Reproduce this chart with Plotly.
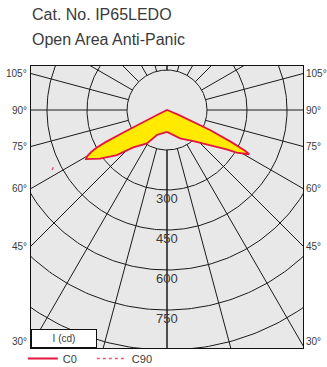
import numpy as np
import plotly.graph_objects as go

# ---------------- data ----------------
title_lines = ["Cat. No. IP65LEDO", "Open Area Anti-Panic"]

# C0 half (drawn on the right), gamma in degrees from nadir, intensity in cd
c0_gamma = [0, 12, 24.7, 40.3, 50.9, 56.6, 58.5, 61.7, 62.5, 63.5, 65, 66.5, 67.5, 68.5, 69.5, 90, 180]
c0_cd    = [82, 95, 117, 153, 208, 268, 306, 350, 330, 270, 178, 94, 45, 10, 0, 0, 0]

# C180 half (drawn on the left)
c180_gamma = [0, 10, 22, 31, 42, 48, 54, 58.8, 60, 61, 61.8, 62.4, 62.8, 63.2, 63.6, 64, 90, 180]
c180_cd    = [82, 88, 101, 146, 189, 253, 310, 355, 345, 325, 300, 260, 180, 100, 40, 0, 0, 0]

# C90 plane (only a tiny fragment is visible, on the left)
c90_gamma = [62.4, 63.6]
c90_cd    = [486, 474]

ring_values = [150, 300, 450, 600, 750, 900, 1050]
ring_labels = [300, 450, 600, 750]
radial_angles = list(range(0, 181, 15))
side_labels = [105, 90, 75, 60, 45, 30]

# ---------------- layout geometry ----------------
W, H = 327, 367
PL, PR, PT, PB = 31, 303, 66, 348      # plot area in px
CX, CY = 167, 110                       # polar centre in px
K = 40 / 150                            # px per cd

x_range = [-(CX - PL) / K, (PR - CX) / K]
y_range = [-(PB - CY) / K, (CY - PT) / K]

GRID = "#1a1a1a"
TXT = "#3a3a3a"
FONT = "Liberation Sans, Arial, sans-serif"


def to_xy(gamma, cd, side):
    g = np.radians(np.asarray(gamma, dtype=float))
    r = np.asarray(cd, dtype=float)
    return side * r * np.sin(g), -r * np.cos(g)


fig = go.Figure()

# rings
cx, cy = [], []
t = np.linspace(0, 2 * np.pi, 361)
for rv in ring_values:
    cx += list(rv * np.cos(t)) + [None]
    cy += list(rv * np.sin(t)) + [None]
fig.add_trace(go.Scatter(x=cx, y=cy, mode="lines", line=dict(color=GRID, width=1),
                         hoverinfo="skip", showlegend=False))

# radial lines
lx, ly = [], []
for side in (1, -1):
    for a in radial_angles:
        xs, ys = to_xy([a, a], [ring_values[0], 2000], side)
        lx += list(xs) + [None]
        ly += list(ys) + [None]
fig.add_trace(go.Scatter(x=lx, y=ly, mode="lines", line=dict(color=GRID, width=1),
                         hoverinfo="skip", showlegend=False))

# C0 / C180 filled curve
rx, ry = to_xy(c0_gamma, c0_cd, 1)
lxx, lyy = to_xy(c180_gamma[::-1], c180_cd[::-1], -1)
px = list(rx) + list(lxx)
py = list(ry) + list(lyy)
fig.add_trace(go.Scatter(x=px, y=py, mode="lines", fill="toself", fillcolor="#FFEA00",
                         line=dict(color="#E3173E", width=1.8), hoverinfo="skip",
                         showlegend=False))

# C90 fragment
vx, vy = to_xy(c90_gamma, c90_cd, -1)
fig.add_trace(go.Scatter(x=vx, y=vy, mode="lines", name="C90",
                         line=dict(color="#E8577A", width=1.5, dash="dot")))

# legend-only C0
fig.add_trace(go.Scatter(x=[None], y=[None], mode="lines", name="C0",
                         line=dict(color="#E3173E", width=2)))

ann = []
for v in ring_labels:
    ann.append(dict(x=0, y=-v, xref="x", yref="y", text=str(v), showarrow=False,
                    yanchor="top", xanchor="center", yshift=1,
                    font=dict(size=13, color=TXT, family=FONT)))

for a in side_labels:
    ga = np.radians(a)
    yl = -(x_range[1]) / np.tan(ga) if a != 90 else 0
    yl = max(yl, y_range[0] + 25)
    ann.append(dict(x=0, y=yl, xref="paper", yref="y", text=f"{a}°", showarrow=False,
                    xanchor="right", xshift=-2, font=dict(size=10, color=TXT, family=FONT)))
    ann.append(dict(x=1, y=yl, xref="paper", yref="y", text=f"{a}°", showarrow=False,
                    xanchor="left", xshift=1, font=dict(size=10, color=TXT, family=FONT)))

ph = PB - PT
for i, line in enumerate(title_lines):
    yc = [15, 39.5][i]
    ann.append(dict(x=0, y=1 + (PT - yc) / ph, xref="paper", yref="paper", text=line,
                    showarrow=False, xanchor="left", yanchor="middle", xshift=-1,
                    font=dict(size=16, color=TXT, family=FONT)))

# I (cd) box
ann.append(dict(x=0, y=0, xref="paper", yref="paper", text="I (cd)", showarrow=False,
                xanchor="left", yanchor="bottom", width=62, height=15,
                bgcolor="white", bordercolor="#111111", borderwidth=1, borderpad=1,
                font=dict(size=10, color=TXT, family=FONT)))

fig.update_layout(
    width=W, height=H,
    margin=dict(l=PL, r=W - PR, t=PT, b=H - PB, pad=0, autoexpand=False),
    paper_bgcolor="white", plot_bgcolor="#E8E8E8",
    xaxis=dict(range=x_range, showgrid=False, zeroline=False, showticklabels=False,
               ticks="", showline=True, mirror=True, linecolor="#111111", linewidth=1,
               fixedrange=True),
    yaxis=dict(range=y_range, showgrid=False, zeroline=False, showticklabels=False,
               ticks="", showline=True, mirror=True, linecolor="#111111", linewidth=1,
               fixedrange=True),
    annotations=ann,
    showlegend=True,
    legend=dict(orientation="h", x=-0.03, y=-10.5 / ph, xanchor="left", yanchor="middle",
                bgcolor="rgba(0,0,0,0)", font=dict(size=11, color=TXT, family=FONT),
                traceorder="reversed", entrywidth=24, entrywidthmode="pixels",
                itemwidth=30, tracegroupgap=0),
)

fig.write_html("out.html", config={"displayModeBar": False},
               post_script="document.body.style.margin='0';document.body.style.overflow='hidden';")
